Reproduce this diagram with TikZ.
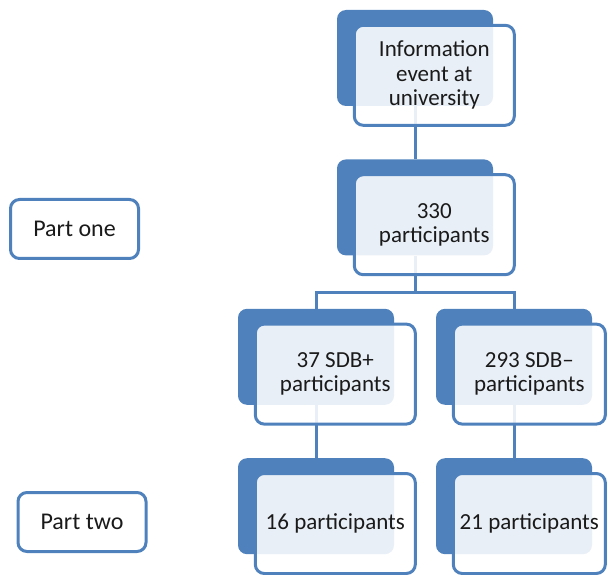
\documentclass[tikz,border=0pt]{standalone}
\usepackage{fontspec}
\setmainfont{Carlito}
\usetikzlibrary{positioning}
\definecolor{sdbblue}{HTML}{4F81BD}
\definecolor{sdbtext}{HTML}{1A1A1A}

\begin{document}
\begin{tikzpicture}[
  x=1pt, y=1pt,
  node distance=53pt,
  back/.style={rectangle, rounded corners=9pt, fill=sdbblue, minimum width=156pt, minimum height=96pt, inner sep=0pt},
  front/.style={rectangle, rounded corners=9pt, draw=sdbblue, line width=3pt, fill=white, fill opacity=0.88, text opacity=1, text=sdbtext, align=center, minimum width=160pt, minimum height=100pt, inner sep=0pt, anchor=north west, font=\fontsize{23}{24.5}\selectfont},
  part/.style={rectangle, rounded corners=9pt, draw=sdbblue, line width=3pt, fill=white, text=sdbtext, align=center, minimum width=128pt, minimum height=59pt, font=\fontsize{24}{26}\selectfont},
  link/.style={draw=sdbblue, line width=3pt},
]
\useasboundingbox (0,0) rectangle (608,574);

\node[back] (infoB) at (415,516) {};
\node[back, below=of infoB] (totalB) {};
\node[back, below=of totalB, xshift=-99pt] (plusB) {};
\node[back, below=of totalB, xshift=99pt] (minusB) {};
\node[back, below=of plusB] (sixteenB) {};
\node[back, below=of minusB] (twentyoneB) {};
\coordinate[below=37pt of totalB] (fork);

\draw[link] (infoB) -- (totalB);
\draw[link] (totalB) -- (fork) -| (plusB);
\draw[link] (fork) -| (minusB);
\draw[link] (plusB) -- (sixteenB);
\draw[link] (minusB) -- (twentyoneB);

\node[front] (info) at ([shift={(16pt,-14pt)}]infoB.north west) {Information\\event at\\university};
\node[front] (total) at ([shift={(16pt,-14pt)}]totalB.north west) {330\\participants};
\node[front] (plus) at ([shift={(16pt,-14pt)}]plusB.north west) {37 SDB+\\participants};
\node[front, minimum width=152pt] (minus) at ([shift={(16pt,-14pt)}]minusB.north west) {293 SDB–\\participants};
\node[front] (sixteen) at ([shift={(16pt,-14pt)}]sixteenB.north west) {16 participants};
\node[front, minimum width=152pt] (twentyone) at ([shift={(16pt,-14pt)}]twentyoneB.north west) {21 participants};

\node[part] (partone) at (74.5,345) {Part one};
\node[part] (parttwo) at (82,52) {Part two};
\end{tikzpicture}
\end{document}
